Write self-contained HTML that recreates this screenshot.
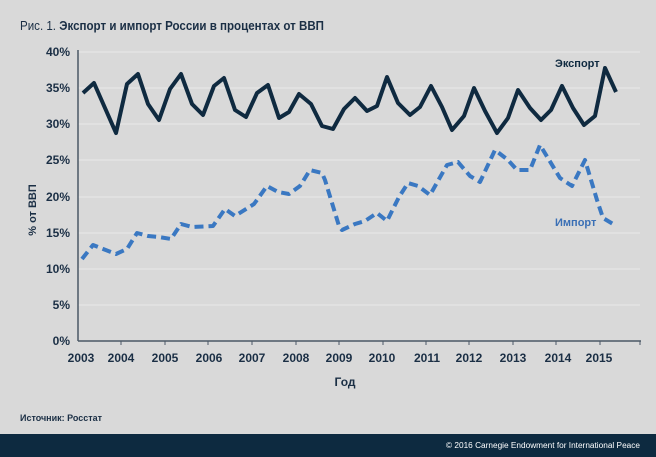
<!DOCTYPE html>
<html><head><meta charset="utf-8"><style>
html,body{margin:0;padding:0;}
body{width:656px;height:457px;background:#d9d9d9;overflow:hidden;font-family:"Liberation Sans",sans-serif;}
</style></head><body>
<svg width="656" height="457" xmlns="http://www.w3.org/2000/svg" style="position:absolute;left:0;top:0">
<rect width="656" height="457" fill="#d9d9d9"/>
<text x="20" y="30" font-size="13" fill="#1b2f45" textLength="304" lengthAdjust="spacingAndGlyphs">Рис. 1. <tspan font-weight="bold">Экспорт и импорт России в процентах от ВВП</tspan></text>
<g stroke="#e9e9e9" stroke-width="1">
<line x1="78" x2="640" y1="52" y2="52"/><line x1="78" x2="640" y1="88" y2="88"/><line x1="78" x2="640" y1="124" y2="124"/><line x1="78" x2="640" y1="160" y2="160"/><line x1="78" x2="640" y1="197" y2="197"/><line x1="78" x2="640" y1="233" y2="233"/><line x1="78" x2="640" y1="269" y2="269"/><line x1="78" x2="640" y1="305" y2="305"/>
</g>
<g font-size="12" font-weight="bold" fill="#1b2f45" text-anchor="end">
<text x="70" y="56">40%</text><text x="70" y="92">35%</text><text x="70" y="128">30%</text><text x="70" y="164">25%</text><text x="70" y="201">20%</text><text x="70" y="237">15%</text><text x="70" y="273">10%</text><text x="70" y="309">5%</text><text x="70" y="345">0%</text>
</g>
<line x1="78" y1="50" x2="78" y2="341" stroke="#4a5866" stroke-width="1.5"/>
<line x1="78" x2="641" y1="341" y2="341" stroke="#4a5866" stroke-width="1.5"/>
<g stroke="#4a5866" stroke-width="1">
<line x1="121" x2="121" y1="341" y2="345"/><line x1="165" x2="165" y1="341" y2="345"/><line x1="208" x2="208" y1="341" y2="345"/><line x1="252" x2="252" y1="341" y2="345"/><line x1="296" x2="296" y1="341" y2="345"/><line x1="339" x2="339" y1="341" y2="345"/><line x1="383" x2="383" y1="341" y2="345"/><line x1="426" x2="426" y1="341" y2="345"/><line x1="469" x2="469" y1="341" y2="345"/><line x1="513" x2="513" y1="341" y2="345"/><line x1="556" x2="556" y1="341" y2="345"/><line x1="600" x2="600" y1="341" y2="345"/><line x1="640" x2="640" y1="341" y2="345"/>
</g>
<g font-size="12" font-weight="bold" fill="#1b2f45" text-anchor="middle">
<text x="81" y="362">2003</text><text x="121" y="362">2004</text><text x="165" y="362">2005</text><text x="209" y="362">2006</text><text x="252" y="362">2007</text><text x="296" y="362">2008</text><text x="339" y="362">2009</text><text x="382" y="362">2010</text><text x="427" y="362">2011</text><text x="469" y="362">2012</text><text x="513" y="362">2013</text><text x="558" y="362">2014</text><text x="599" y="362">2015</text>
</g>
<text x="345" y="386" font-size="12" font-weight="bold" fill="#1b2f45" text-anchor="middle">Год</text>
<text transform="translate(36,210) rotate(-90)" font-size="11" font-weight="bold" fill="#1b2f45" text-anchor="middle">% от ВВП</text>
<polyline fill="none" stroke="#0f2a40" stroke-width="4" stroke-linejoin="round" points="83,93 94,83 116,133 127,84 138,74 148,104 159,120 170,89 181,74 192,104 203,115 214,86 224,78 235,110 246,117 257,93 268,85 279,118 289,112 299,94 311,104 322,126 333,129 344,109 355,98 367,111 377,106 387,77 398,103 410,115 420,107 431,86 442,107 452,130 464,116 474,88 485,111 497,133 508,118 518,90 530,108 541,120 551,110 562,86 573,108 584,125 595,116 605,68 616,92"/>
<polyline fill="none" stroke="#3a78c2" stroke-width="4" stroke-dasharray="9,5" stroke-linejoin="round" points="82,259 93,245 116,254 127,249 137,233 148,236 159,237 171,239 181,224 192,227 213,226 225,209 235,216 254,204 267,186 278,192 289,194 300,186 310,170 322,173 325,180 339,226 342,230 355,224 365,221 377,213 387,221 399,197 408,183 418,186 430,195 447,165 458,162 470,176 480,182 495,150 508,160 517,170 530,170 540,145 560,178 572,186 585,160 597,200 603,218 613,224"/>
<text x="555" y="67" font-size="11" font-weight="bold" fill="#0f2a40">Экспорт</text>
<text x="555" y="226" font-size="11" font-weight="bold" fill="#3a6fb5">Импорт</text>
<text x="20" y="421" font-size="9" font-weight="bold" fill="#1b2f45" textLength="82" lengthAdjust="spacingAndGlyphs">Источник: Росстат</text>
<rect x="0" y="434" width="656" height="23" fill="#0d2a40"/>
<text x="640" y="448" font-size="8" fill="#ffffff" text-anchor="end" textLength="194" lengthAdjust="spacingAndGlyphs">© 2016 Carnegie Endowment for International Peace</text>
</svg>
</body></html>
